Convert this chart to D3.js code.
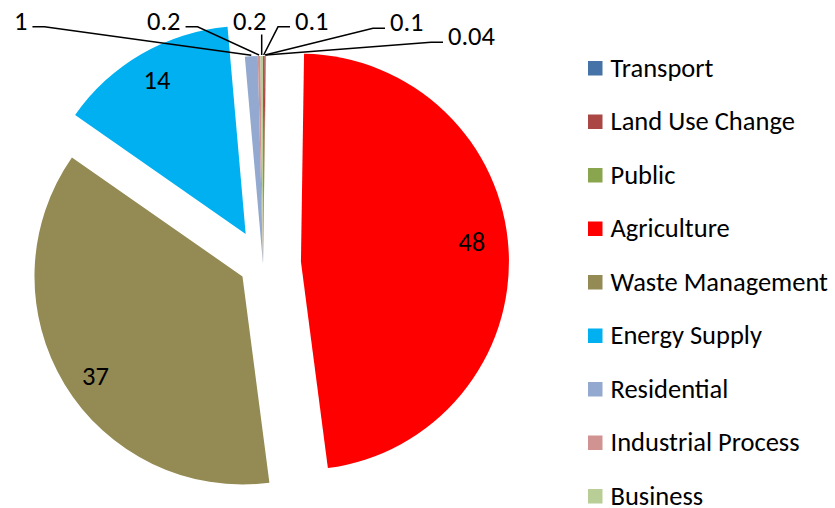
<!DOCTYPE html>
<html>
<head>
<meta charset="utf-8">
<script src="https://d3js.org/d3.v7.min.js"></script>
<style>
  body { margin: 0; background: #fff; }
  svg text { font-family: Carlito, Calibri, "Open Sans", sans-serif; fill: #000; }
</style>
</head>
<body>
<div id="chart"></div>
<script>
// data
var categories = ["Transport", "Land Use Change", "Public", "Agriculture", "Waste Management",
                  "Energy Supply", "Residential", "Industrial Process", "Business"];
var values = [0.1, 0.1, 0.04, 48, 37, 14, 1, 0.2, 0.2];
var colors = ["#4572A7", "#AA4643", "#89A54E", "#FF0000", "#948A54",
              "#00B0F0", "#93A9CF", "#D19392", "#B9CD96"];

// layout
var width = 835, height = 508;
var cx = 263, cy = 264, r = 208;
var fontSize = 26.5;
// explosion distance per slice (px)
var explode = [0, 0, 0, 38, 24, 34.6, 0, 0, 0];
// inside labels: radius factor and angle shift (deg) from the slice bisector
var inside = {3: [0.826, -3.1], 4: [0.855, -3], 5: [0.851, 0]};
// callout labels for the thin slices: text x, baseline y, side of leader
var callouts = {
  0: {x: 295, y: 29.5, side: "left"},
  1: {x: 390, y: 31, side: "left"},
  2: {x: 448, y: 45, side: "left"},
  6: {x: 14, y: 29.5, side: "right"},
  7: {x: 147, y: 29.5, side: "right"},
  8: {x: 233, y: 29.5, side: "below"}
};

var svg = d3.select("#chart").append("svg")
  .attr("width", width)
  .attr("height", height);

var pie = d3.pie().sort(null).value(function(d) { return d; });
var arcs = pie(values);
var arc = d3.arc().innerRadius(0).outerRadius(r);

function offset(d, i) {
  var a = (d.startAngle + d.endAngle) / 2;
  return [explode[i] * Math.sin(a), -explode[i] * Math.cos(a)];
}

var g = svg.append("g").attr("transform", "translate(" + cx + "," + cy + ")");

g.selectAll("path.slice")
  .data(arcs)
  .enter().append("path")
  .attr("class", "slice")
  .attr("d", arc)
  .attr("transform", function(d, i) {
    var o = offset(d, i);
    return "translate(" + o[0] + "," + o[1] + ")";
  })
  .style("fill", function(d, i) { return colors[i]; });

// labels inside the big slices
arcs.forEach(function(d, i) {
  var p = inside[i];
  if (!p) return;
  var o = offset(d, i);
  var a = (d.startAngle + d.endAngle) / 2 + p[1] * Math.PI / 180;
  var lr = r * p[0];
  g.append("text")
    .attr("x", o[0] + lr * Math.sin(a))
    .attr("y", o[1] - lr * Math.cos(a))
    .attr("text-anchor", "middle")
    .attr("dy", "0.32em")
    .style("font-size", fontSize + "px")
    .text(values[i]);
});

// callout labels with leader lines
arcs.forEach(function(d, i) {
  var c = callouts[i];
  if (!c) return;
  var t = svg.append("text")
    .attr("x", c.x)
    .attr("y", c.y)
    .style("font-size", fontSize + "px")
    .text(values[i]);
  var bb = t.node().getBBox();
  var a = (d.startAngle + d.endAngle) / 2;
  var p0 = [cx + (r + 1) * Math.sin(a), cy - (r + 1) * Math.cos(a)];
  var pts;
  var ly = c.y - 2.7;
  if (c.side === "left") {
    pts = [p0, [bb.x - 17, ly], [bb.x - 5, ly]];
  } else if (c.side === "right") {
    pts = [p0, [bb.x + bb.width + 17, ly], [bb.x + bb.width + 5, ly]];
  } else {
    pts = [p0, [p0[0], c.y + 5]];
  }
  svg.append("path")
    .attr("d", d3.line()(pts))
    .attr("fill", "none")
    .attr("stroke", "#000")
    .attr("stroke-width", 1.5);
});

// legend
var legend = svg.append("g").attr("transform", "translate(588,61)");
var item = legend.selectAll("g")
  .data(categories)
  .enter().append("g")
  .attr("transform", function(d, i) { return "translate(0," + (i * 53.5) + ")"; });
item.append("rect")
  .attr("width", 14.5)
  .attr("height", 14.5)
  .style("fill", function(d, i) { return colors[i]; });
item.append("text")
  .attr("x", 22.5)
  .attr("y", 15.5)
  .style("font-size", fontSize + "px")
  .text(function(d) { return d; });
</script>
</body>
</html>
